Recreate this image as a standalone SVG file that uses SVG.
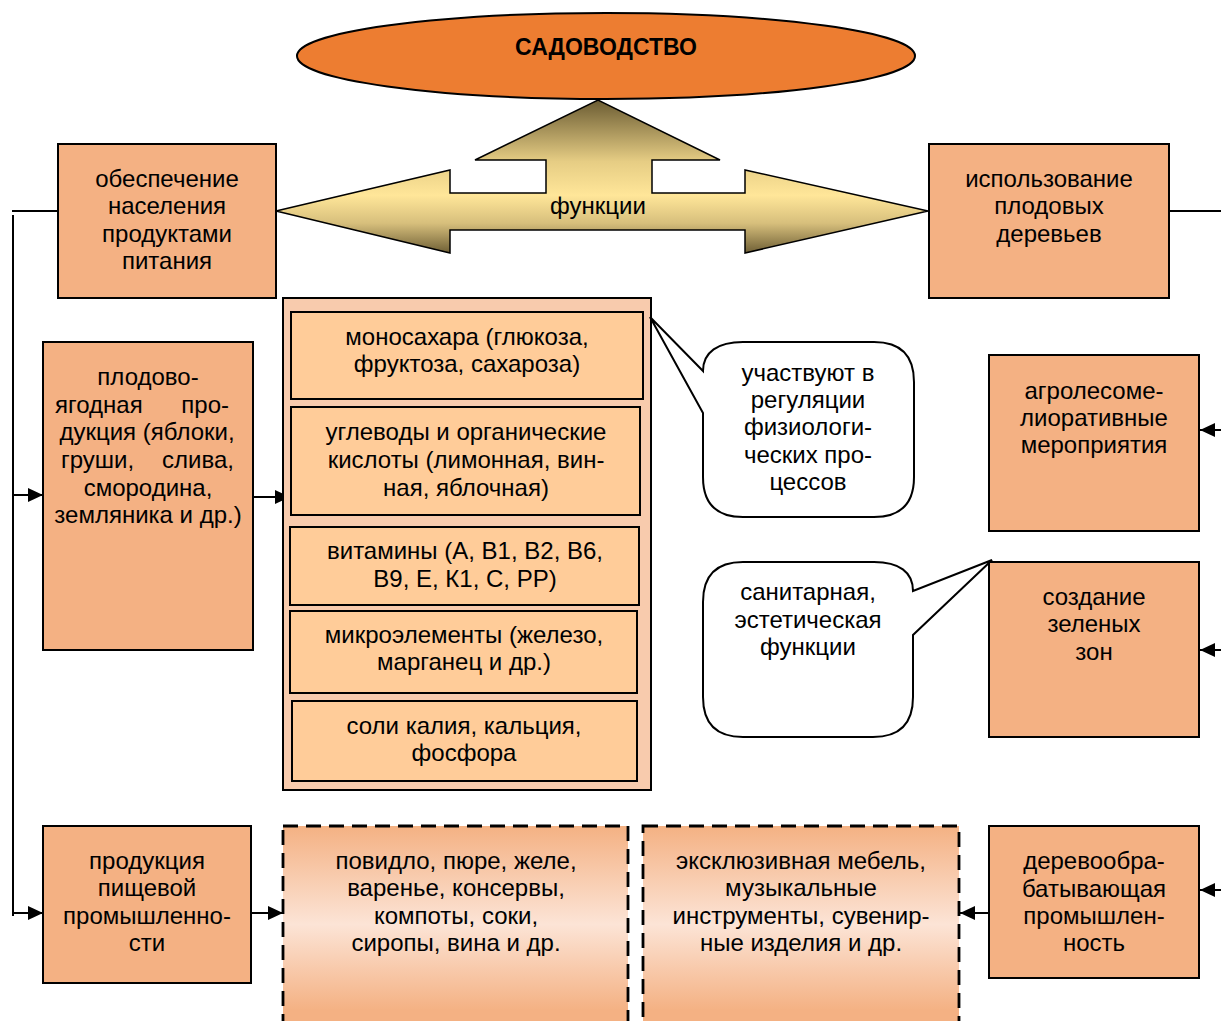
<svg xmlns="http://www.w3.org/2000/svg" width="1221" height="1021" viewBox="0 0 1221 1021">
<defs>
<style>
text{font-family:"Liberation Sans",Arial,sans-serif;font-size:24px;fill:#000;text-anchor:middle}
.box{fill:#F4B183;stroke:#000;stroke-width:2}
.inner{fill:#FFCC99;stroke:#000;stroke-width:2}
.dash{fill:url(#dg);stroke:#000;stroke-width:2.8;stroke-dasharray:15 8}
.call{fill:#fff;stroke:#000;stroke-width:2}
.ln{fill:none;stroke:#000;stroke-width:2}
.ar{fill:none;stroke:#000;stroke-width:2;marker-end:url(#ah)}
</style>
<marker id="ah" markerUnits="userSpaceOnUse" markerWidth="16" markerHeight="14" refX="15" refY="7" orient="auto">
<path d="M0,0 L15,7 L0,14 Z" fill="#000"/>
</marker>
<linearGradient id="ag" gradientUnits="userSpaceOnUse" x1="0" y1="100" x2="0" y2="254">
<stop offset="0" stop-color="#6b5c33"/>
<stop offset="0.4" stop-color="#e6cd84"/>
<stop offset="0.62" stop-color="#ffe699"/>
<stop offset="0.8" stop-color="#d7bf7c"/>
<stop offset="1" stop-color="#6b5c33"/>
</linearGradient>
<linearGradient id="dg" x1="0" y1="0" x2="0" y2="1">
<stop offset="0" stop-color="#F4B183"/>
<stop offset="0.48" stop-color="#FCE4D6"/>
<stop offset="0.9" stop-color="#F4B183"/>
</linearGradient>
</defs>
<rect width="1221" height="1021" fill="#fff"/>

<g id="connectors">
<path class="ln" d="M58,211 H12 M13,215 V916 M1169,211 H1221"/>
<path class="ar" d="M13,495 H43"/>
<path class="ar" d="M13,913 H43"/>
<path class="ar" d="M244,497 H290"/>
<path class="ar" d="M251,913 H283"/>
<path class="ar" d="M989,913 H960"/>
<path class="ar" d="M1221,430 H1200"/>
<path class="ar" d="M1221,650 H1200"/>
<path class="ar" d="M1221,890 H1200"/>
</g>

<g id="sadovodstvo">
<ellipse cx="606" cy="56" rx="309" ry="43" fill="#ED7D31" stroke="#000" stroke-width="2"/>
<text x="606" y="55" style="font-weight:bold;font-size:23px">САДОВОДСТВО</text>
</g>

<g id="funkcii">
<path d="M276,211 L450,170 L450,193 L546,193 L546,160 L475,160 L598,100 L720,160 L652,160 L652,193 L745,193 L745,170 L928,211 L745,253 L745,230 L450,230 L450,253 Z" fill="url(#ag)" stroke="#000" stroke-width="1.5"/>
<text x="598" y="214">функции</text>
</g>

<g id="obespechenie">
<rect class="box" x="58" y="144" width="218" height="154"/>
<text x="167" y="187">обеспечение</text>
<text x="167" y="214">населения</text>
<text x="167" y="242">продуктами</text>
<text x="167" y="269">питания</text>
</g>

<g id="ispolzovanie">
<rect class="box" x="929" y="144" width="240" height="154"/>
<text x="1049" y="187">использование</text>
<text x="1049" y="214">плодовых</text>
<text x="1049" y="242">деревьев</text>
</g>

<g id="plodovo">
<rect class="box" x="43" y="342" width="210" height="308"/>
<text x="148" y="385">плодово-</text>
<text x="55" y="413" style="text-anchor:start">ягодная</text>
<text x="229" y="413" style="text-anchor:end">про-</text>
<text x="147" y="440">дукция (яблоки,</text>
<text x="61" y="468" style="text-anchor:start">груши,</text>
<text x="234" y="468" style="text-anchor:end">слива,</text>
<text x="148" y="496">смородина,</text>
<text x="148" y="523">земляника и др.)</text>
</g>

<g id="sostav">
<rect x="283" y="298" width="368" height="492" fill="#F8CBAD" stroke="#000" stroke-width="2"/>
<g id="monosahara">
<rect class="inner" x="291" y="312" width="352" height="87"/>
<text x="467" y="345">моносахара (глюкоза,</text>
<text x="467" y="372">фруктоза, сахароза)</text>
</g>
<g id="uglevody">
<rect class="inner" x="291" y="407" width="349" height="108"/>
<text x="466" y="440">углеводы и органические</text>
<text x="466" y="468">кислоты (лимонная, вин-</text>
<text x="466" y="496">ная, яблочная)</text>
</g>
<g id="vitaminy">
<rect class="inner" x="290" y="527" width="349" height="78"/>
<text x="465" y="559">витамины (А, В1, В2, В6,</text>
<text x="465" y="587">В9, Е, К1, С, РР)</text>
</g>
<g id="mikro">
<rect class="inner" x="290" y="611" width="347" height="82"/>
<text x="464" y="643">микроэлементы (железо,</text>
<text x="464" y="670">марганец и др.)</text>
</g>
<g id="soli">
<rect class="inner" x="292" y="701" width="345" height="80"/>
<text x="464" y="734">соли калия, кальция,</text>
<text x="464" y="761">фосфора</text>
</g>
</g>

<g id="callout1">
<path class="call" d="M703,371 L650,317 L703,413 V477 Q703,517 743,517 H874 Q914,517 914,477 V382 Q914,342 874,342 H743 C718,342 703,352 703,371 Z"/>
<text x="808" y="381">участвуют в</text>
<text x="808" y="408">регуляции</text>
<text x="808" y="435">физиологи-</text>
<text x="808" y="463">ческих про-</text>
<text x="808" y="490">цессов</text>
</g>

<g id="callout2">
<path class="call" d="M743,562 H874 C899,562 913,572 913,591 L992,560 L913,635 V697 Q913,737 873,737 H743 Q703,737 703,697 V602 Q703,562 743,562 Z"/>
<text x="808" y="600">санитарная,</text>
<text x="808" y="628">эстетическая</text>
<text x="808" y="655">функции</text>
</g>

<g id="agro">
<rect class="box" x="989" y="355" width="210" height="176"/>
<text x="1094" y="399">агролесоме-</text>
<text x="1094" y="426">лиоративные</text>
<text x="1094" y="453">мероприятия</text>
</g>

<g id="zelenye">
<rect class="box" x="989" y="562" width="210" height="175"/>
<text x="1094" y="605">создание</text>
<text x="1094" y="632">зеленых</text>
<text x="1094" y="660">зон</text>
</g>

<g id="derevo">
<rect class="box" x="989" y="826" width="210" height="152"/>
<text x="1094" y="869">деревообра-</text>
<text x="1094" y="897">батывающая</text>
<text x="1094" y="924">промышлен-</text>
<text x="1094" y="951">ность</text>
</g>

<g id="pishchevaya">
<rect class="box" x="43" y="826" width="208" height="157"/>
<text x="147" y="869">продукция</text>
<text x="147" y="896">пищевой</text>
<text x="147" y="924">промышленно-</text>
<text x="147" y="951">сти</text>
</g>

<g id="povidlo">
<rect class="dash" x="283" y="826" width="345" height="205"/>
<text x="456" y="869">повидло, пюре, желе,</text>
<text x="456" y="896">варенье, консервы,</text>
<text x="456" y="924">компоты, соки,</text>
<text x="456" y="951">сиропы, вина и др.</text>
</g>

<g id="mebel">
<rect class="dash" x="643" y="826" width="316" height="205"/>
<text x="801" y="869">эксклюзивная мебель,</text>
<text x="801" y="896">музыкальные</text>
<text x="801" y="924">инструменты, сувенир-</text>
<text x="801" y="951">ные изделия и др.</text>
</g>
</svg>
